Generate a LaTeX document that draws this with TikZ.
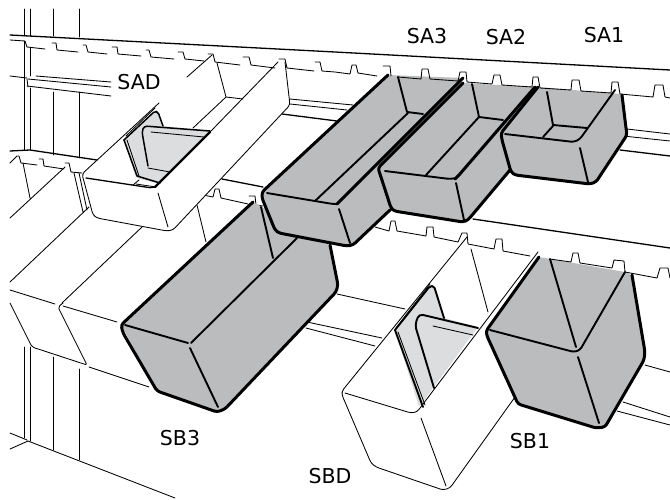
\documentclass[tikz,border=0pt]{standalone}
\usepackage{fontspec}
\setmainfont{DejaVu Sans}
\definecolor{bingrey}{HTML}{BBBCBE}
\definecolor{divgrey}{HTML}{DCDDDE}
\tikzset{
  hair/.style={line width=0.85pt,line cap=round,line join=round,black},
  bold/.style={line width=3pt,line cap=round,line join=round,black},
  semi/.style={line width=1.9pt,line cap=round,line join=round,black},
  rail/.style={line width=1.3pt,line cap=round,line join=round,black},
  greybody/.style={fill=bingrey,draw=none,rounded corners=3pt},
  whitebody/.style={fill=white,draw=none,rounded corners=3pt},
  divbody/.style={fill=divgrey,draw=none,rounded corners=2pt},
  lbl/.style={font=\fontsize{20.5}{20.5}\selectfont,inner sep=0pt,text=black}
}
\begin{document}
\begin{tikzpicture}[x=1pt,y=-1pt]
\useasboundingbox (0,0) rectangle (670,499);
% --- frame and shelves
\draw[hair] (24,9)--(24,36) (30,9)--(30,36) (53,9)--(53,36) (79,9)--(79,37);
\draw[hair] (24,41)--(24,150) (30,48)--(30,76) (30,88)--(30,150) (53,92)--(53,155) (79,92)--(79,158);
\draw[rail] (10,35)--(335,52)--(670,70);
\draw[hair] (10,76)--(27,78) (36,76)--(111,82) (28,79)--(111,87) (27,86)--(111,96);
\draw[hair] (27,79)--(28,87);
\draw[rail] (10,151)--(30,150)--(97,160);
\draw[rail] (222,179)--(263,187);
\draw[rail] (473,219)--(670,248);
\draw[hair] (290,99)--(353,105) (290,104)--(347,110);
\draw[rail] (282,114)--(337,121);
\draw[hair] (627,129)--(670,134) (623,136)--(670,141);
\draw[rail] (620,150)--(670,156);
\draw[hair] (10,163)--(17,156)--(19,156)--(21,163)--(37,165) (39,159)--(43,159)--(44,166)--(64,169) (65,163)--(69,163)--(71,172)--(82,173);
\draw[hair] (203,195)--(213,197)--(215,189)--(219,189)--(221,198)--(248,204) (249,196)--(255,196)--(256,205)--(263,206);
% lower rails
\draw[hair] (337,294)--(405,309) (307,322)--(382,338) (306,328)--(375,346);
\draw[hair] (645,365)--(670,372) (623,402)--(670,417) (617,411)--(670,425);
% lower frame
\draw[hair] (24,347)--(24,438) (30,347)--(30,441) (53,357)--(53,450) (79,369)--(79,460);
\draw[hair] (28,441)--(175,498) (10,433)--(27,440) (10,449)--(28,441);
% --- left white bins
\draw[hair] (23,163)--(30,198) (10,218)--(65,167);
\draw[hair] (74,173)--(83,212) (79,173)--(87,210) (10,282)--(89,207);
\draw[hair] (142,227)--(62,303);
\draw[hair] (197,205)--(206,242);
\draw[hair] (10,290)--(55,304);
\draw[hair,rounded corners=2pt] (10,303)--(32,347)--(87,365)--(58,307)--(63,303);
\draw[hair] (63,306)--(117,322) (89,367)--(149,387);
% --- SAD bin
\path[whitebody] (82,175)--(212,55)--(215,62)--(285,67)--(290,105)--(173,231)--(167,231)--(97,218)--cycle;
\draw[hair,rounded corners=3pt] (159,103)--(82,174)--(93,215)--(97,218)--(167,231)--(173,230)--(290,105)--(285,62);
\draw[hair] (187,77)--(212,55);
\draw[hair] (278,62)--(211,131);
\draw[hair] (217,63)--(226,97)--(243,99) (226,97)--(193,128);
\draw[hair,line width=1.3pt,rounded corners=2pt] (86,178)--(152,188)--(156,186);
\draw[hair] (158,193)--(168,227);
\path[divbody] (124,140)--(155,111)--(158,111)--(163,126)--(210,131)--(160,184)--(136,178)--cycle;
\draw[semi,line width=1.5pt,rounded corners=2pt] (124,140)--(155,111)--(158,112)--(163,126);
\draw[hair] (126,136)--(155,108);
\draw[semi,line width=1.5pt] (124,140)--(137,176)--(160,183);
\draw[hair] (127,140)--(139,176);
\draw[semi,line width=1.5pt,rounded corners=3pt] (148,166)--(142,132)--(144,126)--(210,131);
\draw[hair] (151,132)--(204,137);
\draw[hair] (148,168)--(170,172) (133,185)--(139,180);
\draw[bold,line width=2.2pt] (155,187)--(210,132);
\draw[hair] (136,184)--(156,187);
% --- SB3
\path[greybody] (121,325)--(253,202)--(330,245)--(338,283)--(336,292)--(224,410)--(217,412)--(157,391)--cycle;
\draw[bold,rounded corners=3pt] (253,202)--(121,325)--(123,333)--(157,391)--(217,412)--(225,409)--(336,292)--(338,285)--(330,245);
\draw[semi] (125,325)--(188,343) (191,343)--(297,238) (190,348)--(218,407) (261,207)--(273,258);
% --- SA3
\path[greybody] (262,192)--(388,75)--(463,78)--(390,210)--(353,245)--(347,246)--(275,232)--cycle;
\draw[bold,rounded corners=3pt] (388,75)--(262,192)--(262,198)--(275,230)--(279,233)--(347,246)--(353,245)--(390,210);
\draw[bold] (463,78)--(337,204);
\draw[semi,rounded corners=3pt] (267,193)--(333,204)--(337,204);
\draw[semi] (398,77)--(407,112)--(423,114) (315,201)--(408,113);
\draw[semi] (339,209)--(350,243);
% --- SA2
\path[greybody] (380,168)--(463,83)--(535,87)--(510,170)--(468,221)--(463,222)--(392,210)--cycle;
\draw[bold,rounded corners=3pt] (463,83)--(378,168)--(380,174)--(391,208)--(394,211)--(463,222)--(468,220)--(510,170);
\draw[bold] (535,87)--(459,175)--(455,179);
\draw[semi,rounded corners=3pt] (385,171)--(450,179)--(456,178);
\draw[semi] (472,84)--(479,117)--(503,120) (426,175)--(479,117) (456,183)--(464,220);
% --- SA1
\path[greybody] (502,133)--(538,87)--(620,94)--(622,95)--(627,132)--(597,182)--(592,184)--(513,175)--(502,135)--cycle;
\draw[bold,rounded corners=3pt] (538,87)--(501,133)--(502,140)--(511,172)--(515,175)--(590,184)--(596,182)--(627,135)--(626,128)--(622,95);
\draw[semi,rounded corners=3pt] (505,134)--(574,142)--(580,139)--(615,90);
\draw[semi] (547,92)--(553,125)--(587,128) (543,137)--(553,126) (580,148)--(588,182);
% --- SBD bin
\path[whitebody] (342,392)--(467,237)--(538,252)--(515,397)--(452,488)--(443,490)--(372,465)--cycle;
\draw[hair,rounded corners=3pt] (467,237)--(342,391)--(342,395)--(371,463)--(376,467)--(443,490)--(450,488)--(515,397);
\draw[hair,rounded corners=3pt] (345,393)--(411,413)--(417,412)--(538,252);
\draw[hair] (421,418)--(446,486);
\draw[hair] (471,249)--(488,312);
\path[divbody] (395,330)--(430,285)--(434,285)--(444,318)--(478,327)--(419,407)--cycle;
\draw[semi,rounded corners=2pt] (395,330)--(430,286)--(434,286)--(444,318);
\draw[hair] (396,328)--(430,284);
\draw[semi] (395,330)--(423,407);
\draw[hair] (398,332)--(425,405);
\draw[semi,rounded corners=4pt] (434,388)--(415,325)--(419,314)--(478,328);
\draw[hair] (433,326)--(473,335);
% --- SB1
\path[greybody] (487,332)--(539,257)--(625,272)--(632,275)--(645,353)--(643,360)--(607,427)--(598,428)--(518,405)--cycle;
\draw[bold,rounded corners=3pt] (539,257)--(486,331)--(487,336)--(518,404)--(596,428)--(605,427)--(644,360)--(645,352)--(632,275);
\draw[semi,rounded corners=3pt] (490,330)--(574,352)--(580,350)--(625,272);
\draw[semi] (550,259)--(576,347) (578,357)--(599,423);
% --- slot rows, in front of the rims they run along
\draw[hair] (10,40)--(25,41)--(27,47)--(45,49) (52,43)--(56,43)--(57,50)--(78,52) (83,45)--(86,45)--(88,52)--(107,54) (112,47)--(117,47)--(118,54)--(141,56) (146,50)--(149,50)--(151,57)--(174,59) (178,52)--(183,52)--(185,59)--(204,61) (208,54)--(213,54)--(215,62)--(240,65) (243,57)--(249,57)--(251,65)--(275,68) (279,59)--(285,59)--(287,68)--(314,71) (315,62)--(320,62)--(322,71)--(335,72)--(350,74)--(352,65)--(356,65)--(358,73)--(377,76) (383,66)--(390,66)--(391,76)
 (398,77)--(421,79)--(422,69)--(428,69)--(430,79)--(458,81)--(460,72)--(466,72)--(467,82)--(492,84)--(494,75)--(500,75)--(502,85)--(532,87)--(533,77)--(538,77)--(540,88)--(571,90)--(572,80)--(579,80)--(581,91)--(611,93)--(612,82)--(618,82)--(620,94)--(653,97)--(655,85)--(663,85)--(665,97)--(670,98);
\draw[hair] (375,227)--(389,231)--(391,221)--(395,221)--(397,231)--(426,236)--(427,227)--(433,227)--(434,237)--(458,242)--(462,233)--(467,233)--(468,244)--(494,249)--(496,239)--(502,239)--(503,251)--(530,256);
\draw[hair] (550,259)--(571,262)--(573,253)--(578,253)--(580,263)--(612,268)--(614,260)--(624,261)--(625,272)--(657,278)--(660,268)--(668,268)--(670,278);
% --- labels
\node[lbl] (sad) at (139,82) {SAD};
\node[lbl] (sa3) at (427,36) {SA3};
\node[lbl] (sa2) at (506,37) {SA2};
\node[lbl] (sa1) at (604,35) {SA1};
\node[lbl] (sb3) at (180,438) {SB3};
\node[lbl] (sbd) at (330,476) {SBD};
\node[lbl] (sb1) at (530,441) {SB1};
\end{tikzpicture}
\end{document}
